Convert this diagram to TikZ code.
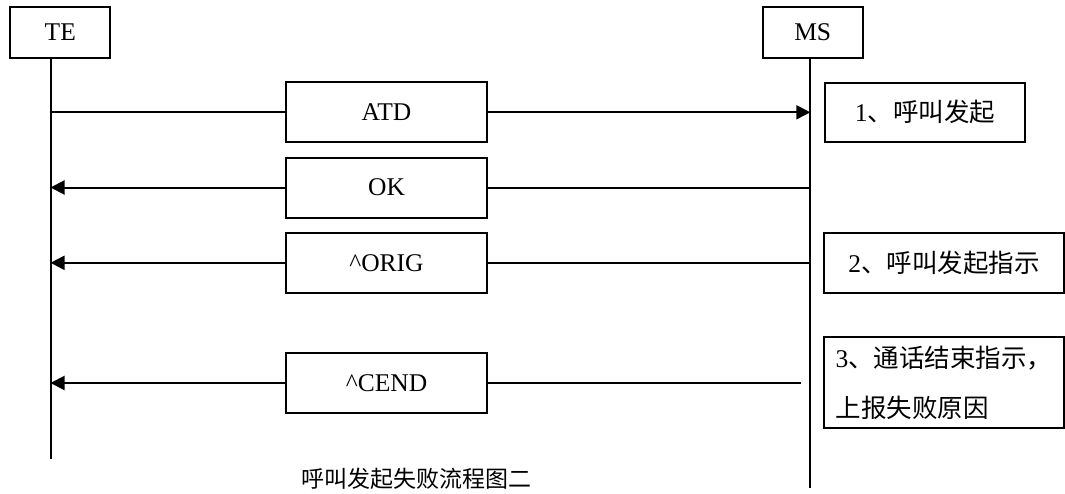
\documentclass[tikz,border=0pt]{standalone}
\usepackage{fontspec}
\setmainfont{Liberation Serif}
\newfontfamily\cjk{Noto Sans CJK SC}
\usetikzlibrary{arrows.meta}

\begin{document}
\begin{tikzpicture}[
        x=1pt, y=-1pt,
        font=\fontsize{25.5}{30}\selectfont,
        line width=2pt,
        entity/.style={
            draw,
            rectangle,
            minimum width=100pt,
            minimum height=51pt,
            inner sep=0pt
        },
        msgbox/.style={
            draw,
            rectangle,
            minimum width=201pt,
            minimum height=60pt,
            inner sep=0pt
        },
        notebox/.style={
            draw,
            rectangle,
            minimum width=240pt,
            minimum height=60pt,
            inner sep=0pt,
            align=left
        },
        msg/.style={-{Triangle[length=14pt,width=14pt]}}
    ]
        \useasboundingbox (0,0) rectangle (1065,493);

        % Entities and lifelines
        \node[entity] (te) at (60.3,32.5) {TE};
        \node[entity] (ms) at (812.7,32.5) {MS};
        \coordinate (teEnd) at (50.5,459);
        \coordinate (msEnd) at (810.3,488);
        \draw (te.south -| teEnd) -- (teEnd);
        \draw (ms.south -| msEnd) -- (msEnd);

        % Message boxes
        \node[msgbox] (atd) at (386.5,112.3) {ATD};
        \node[msgbox] (ok) at (386.5,187.5) {OK};
        \node[msgbox] (orig) at (386.5,262.8) {\textasciicircum ORIG};
        \node[msgbox] (cend) at (386.5,383) {\textasciicircum CEND};

        % Arrows between lifelines
        \draw (atd.west -| teEnd) -- (atd.west);
        \draw[msg] (atd.east) -- (atd.east -| msEnd);
        \draw (ok.east -| msEnd) -- (ok.east);
        \draw[msg] (ok.west) -- (ok.west -| teEnd);
        \draw (orig.east -| msEnd) -- (orig.east);
        \draw[msg] (orig.west) -- (orig.west -| teEnd);
        \coordinate (cendStart) at (800.7,383);
        \draw (cendStart) -- (cend.east);
        \draw[msg] (cend.west) -- (cend.west -| teEnd);

        % Steps on the right
        \node[notebox, minimum width=200pt, minimum height=59pt] (step1) at (925,112) {1{\cjk 、呼叫发起}};
        \node[notebox] (step2) at (944,262.7) {2{\cjk 、呼叫发起指示}};
        \node[notebox, minimum height=91pt] (step3) at (944,382.7) {3{\cjk 、通话结束指示，}\\[20pt]{\cjk 上报失败原因}};

        % Caption
        \node[font=\fontsize{23}{28}\selectfont] (caption) at (416.5,479) {\cjk 呼叫发起失败流程图二};

    \end{tikzpicture}
\end{document}
